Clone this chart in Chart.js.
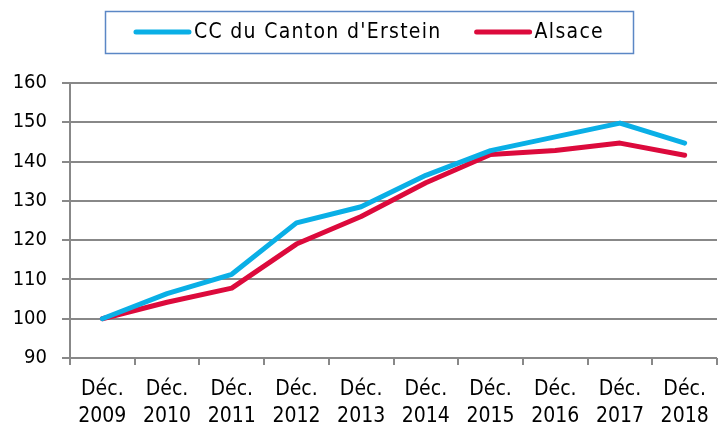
<!DOCTYPE html>
<html>
<head>
<meta charset="utf-8">
<script src="https://cdn.jsdelivr.net/npm/chart.js@4.4.0/dist/chart.umd.min.js"></script>
<style>
  html, body { margin: 0; padding: 0; background: #fff; }
  #wrap { width: 720px; height: 428px; position: relative; }
</style>
</head>
<body>
<div id="wrap"><canvas id="chart" width="720" height="428"></canvas></div>
<script>
// --- data ---
const years = ['2009', '2010', '2011', '2012', '2013', '2014', '2015', '2016', '2017', '2018'];
const labels = years.map(y => ['Déc.', y]);
const ccErstein = [100, 106.4, 111.3, 124.4, 128.5, 136.5, 142.8, 146.3, 149.8, 144.7];
const alsace = [100, 104.2, 107.8, 119.0, 126.0, 134.6, 141.8, 142.8, 144.7, 141.6];
const yTicks = [90, 100, 110, 120, 130, 140, 150, 160];

const FONT = '"DejaVu Sans Condensed", "DejaVu Sans", sans-serif';

// legend drawn in a framed box on top, like the original
const boxLegend = {
  id: 'boxLegend',
  afterDraw(chart) {
    const c = chart.ctx;
    c.save();
    c.strokeStyle = '#5b87c5';
    c.lineWidth = 1.5;
    c.strokeRect(105.5, 11.5, 528, 42);

    c.font = '21px ' + FONT;
    c.letterSpacing = '1.3px';
    c.textBaseline = 'middle';
    c.fillStyle = '#000';
    const lineW = 57, gap = 3, between = 33;
    const items = chart.data.datasets.map(ds => ({ text: ds.label, color: ds.borderColor, w: c.measureText(ds.label).width }));
    let total = 0;
    items.forEach((it, i) => { total += lineW + gap + it.w + (i ? between : 0); });
    let x = 105 + (528 - total) / 2;
    const y = 32;
    items.forEach((it, i) => {
      if (i) x += between;
      c.strokeStyle = it.color;
      c.lineWidth = 5;
      c.lineCap = 'round';
      c.beginPath();
      c.moveTo(x + 2, y);
      c.lineTo(x + lineW - 2, y);
      c.stroke();
      x += lineW + gap;
      c.fillText(it.text, x, y + 1);
      x += it.w;
    });
    c.restore();
  }
};

new Chart(document.getElementById('chart'), {
  type: 'line',
  data: {
    labels: labels,
    datasets: [
      {
        label: "CC du Canton d'Erstein",
        data: ccErstein,
        borderColor: '#0aafe6',
        backgroundColor: '#0aafe6',
        borderWidth: 5,
        pointRadius: 0,
        tension: 0,
        borderJoinStyle: 'round',
        borderCapStyle: 'round'
      },
      {
        label: 'Alsace',
        data: alsace,
        borderColor: '#dc0a3c',
        backgroundColor: '#dc0a3c',
        borderWidth: 5,
        pointRadius: 0,
        tension: 0,
        borderJoinStyle: 'round',
        borderCapStyle: 'round'
      }
    ]
  },
  options: {
    responsive: false,
    animation: false,
    layout: { padding: { top: 83, right: 3, left: 0, bottom: 0 } },
    plugins: {
      legend: { display: false },
      tooltip: { enabled: false }
    },
    scales: {
      x: {
        offset: true,
        grid: {
          offset: true,
          drawOnChartArea: false,
          drawTicks: true,
          tickLength: 7,
          color: '#888',
          lineWidth: 2
        },
        border: { display: false },
        ticks: {
          color: '#000',
          font: { family: FONT, size: 21, lineHeight: '27px' },
          padding: 11,
          maxRotation: 0,
          autoSkip: false
        },
        afterFit(scale) { scale.height = 70; }
      },
      y: {
        min: 90,
        max: 160,
        afterBuildTicks(scale) { scale.ticks = yTicks.map(v => ({ value: v })); },
        grid: {
          color: '#888',
          lineWidth: 2,
          tickLength: 8
        },
        border: { display: true, color: '#888', width: 2 },
        ticks: {
          color: '#000',
          font: { family: FONT, size: 20 },
          padding: 15
        },
        afterFit(scale) { scale.width = 70; }
      }
    }
  },
  plugins: [boxLegend]
});
</script>
</body>
</html>
